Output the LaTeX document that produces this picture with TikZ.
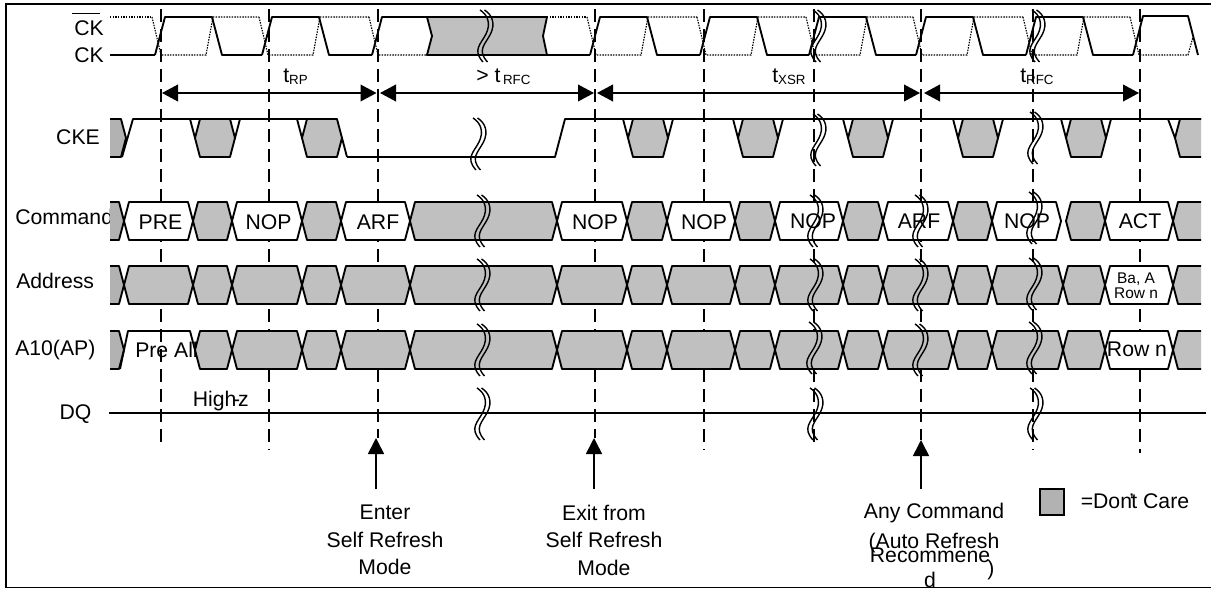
\documentclass[tikz,border=0pt]{standalone}
\usepackage{fontspec}
\setmainfont{Liberation Sans}
\usetikzlibrary{arrows.meta}
\definecolor{dontcare}{HTML}{C0C0C0}
\definecolor{dontcareend}{HTML}{B2B2B2}
\tikzset{
    sig/.style={line width=1.4pt,line join=round},
    dots/.style={line width=.85pt,dash pattern=on 1.1pt off .9pt},
    guideline/.style={line width=1.7pt,dash pattern=on 10pt off 5pt},
    breakline/.style={line width=1.05pt},
    dim/.style={line width=1.3pt,{Triangle[length=12pt,width=12.5pt]}-{Triangle[length=12pt,width=12.5pt]}},
    callout/.style={line width=1.2pt,-{Triangle[length=12pt,width=12pt]}},
    lbl/.style={inner sep=0pt,font=\fontsize{15.9}{20.6}\selectfont},
    smalllbl/.style={inner sep=0pt,align=center,font=\fontsize{11.6}{11.4}\selectfont}
}
\newcommand{\TSub}[1]{t\raisebox{-2.2pt}{\fontsize{10}{12}\selectfont #1}}
\newcommand{\Guide}[3]{
    \coordinate (#1t) at (#2,9);
    \coordinate (#1b) at (#2,#3);
    \draw[guideline] (#1t) -- (#1b);
}
\newcommand{\CkCycle}[2]{
    \draw[sig] (#1,55) -- (#1+10,17) -- (#1+57,17) -- (#1+67,55) -- (#2,55);
    \draw[dots] (#1-3,17) -- (#1+6,55) -- (#1+51,55) -- (#1+58,17) -- (#2-3,17);
}
\newcommand{\GrayCell}[3]{
    \draw[sig,fill=dontcare] (#1,#3+19) -- (#1+5,#3) -- (#2-5,#3) -- (#2,#3+19) -- (#2-5,#3+38) -- (#1+5,#3+38) -- cycle;
}
\newcommand{\WhiteCell}[3]{
    \draw[sig,fill=white] (#1,#3+19) -- (#1+5,#3) -- (#2-5,#3) -- (#2,#3+19) -- (#2-5,#3+38) -- (#1+5,#3+38) -- cycle;
}
\newcommand{\GrayLeft}[2]{
    \fill[dontcareend] (110,#2) -- (#1-5,#2) -- (#1,#2+19) -- (#1-5,#2+38) -- (110,#2+38) -- cycle;
    \draw[sig] (110,#2) -- (#1-5,#2) -- (#1,#2+19) -- (#1-5,#2+38) -- (110,#2+38);
}
\newcommand{\GrayRight}[2]{
    \fill[dontcare] (1201,#2) -- (#1+5,#2) -- (#1,#2+19) -- (#1+5,#2+38) -- (1201,#2+38) -- cycle;
    \draw[sig] (1201,#2) -- (#1+5,#2) -- (#1,#2+19) -- (#1+5,#2+38) -- (1201,#2+38);
}
\newcommand{\GrayRun}[1]{
    \GrayCell{232}{302}{#1}
    \GrayCell{302}{341}{#1}
    \GrayCell{341}{410}{#1}
    \GrayCell{410}{557}{#1}
    \GrayCell{557}{627}{#1}
    \GrayCell{627}{667}{#1}
    \GrayCell{667}{735}{#1}
    \GrayCell{735}{775}{#1}
    \GrayCell{775}{843}{#1}
    \GrayCell{843}{883}{#1}
    \GrayCell{883}{953}{#1}
    \GrayCell{953}{992}{#1}
    \GrayCell{992}{1063}{#1}
    \GrayCell{1063}{1105}{#1}
    \WhiteCell{1105}{1173}{#1}
    \GrayRight{1173}{#1}
}
\newcommand{\CkeHole}[2]{
    \GrayCell{#1-20}{#1+20}{119}
    \draw[sig] (#1-25,119) -- (#1-20,138);
    \draw[sig] (#1+20,138) -- (#1+25,#2);
}
\newcommand{\BreakMark}[2]{
    \draw[breakline,shift={(#1,#2)}] (0,0) .. controls (8,5) and (11,14) .. (6,24) .. controls (1,34) and (-8,40) .. (3,52);
    \draw[breakline,shift={(#1+4.5,#2)}] (0,0) .. controls (8,5) and (11,14) .. (6,24) .. controls (1,34) and (-8,40) .. (3,52);
}

\begin{document}
\begin{tikzpicture}[x=.75pt,y=-.75pt]
    \useasboundingbox (0,0) rectangle (1211,589);

    \node[lbl] (ckbarlabel) at (89,28) {CK};
    \draw[line width=1.3pt] ([xshift=-1.5pt,yshift=5pt]ckbarlabel.north west) -- ([xshift=-3pt,yshift=5pt]ckbarlabel.north east);
    \node[lbl] (cklabel) at (89,55) {CK};
    \node[lbl] (ckelabel) at (78,137) {CKE};
    \node[lbl,anchor=west] (cmdlabel) at (15,217) {Command};
    \node[lbl,anchor=west] (addrlabel) at (16,281) {Address};
    \node[lbl,anchor=west] (a10label) at (15,350) {A10(AP)};
    \node[lbl] (dqlabel) at (75.5,414) {DQ};
    \node[lbl,anchor=west] (prealltext) at (135,350) {Pre All};
    \node[lbl,anchor=west] (highz) at (192.5,401) {High\kern-2.5pt-\kern-1.5pt z};

    \Guide{ga}{161}{445}
    \Guide{gb}{269}{450}
    \Guide{gc}{378}{438}
    \Guide{gd}{595}{438}
    \Guide{ge}{704}{450}
    \Guide{gf}{814}{445}
    \Guide{gg}{921}{440}
    \Guide{gh}{1033}{450}
    \Guide{gi}{1140}{453}

    \draw[sig] (110,55) -- (155,55);
    \draw[dots] (110,17) -- (152,17);
    \CkCycle{155}{262}
    \CkCycle{262}{372}
    \draw[sig] (372,55) -- (382,17) -- (427,17);
    \draw[dots] (369,17) -- (378,55) -- (427,55);
    \draw[sig,fill=dontcare] (427,17) -- (547,17) -- (543,36) -- (547,55) -- (427,55) -- (432,36) -- cycle;
    \draw[sig] (547,55) -- (590,55);
    \draw[dots] (547,17) -- (587,17);
    \CkCycle{590}{700}
    \CkCycle{700}{809}
    \CkCycle{809}{916}
    \CkCycle{916}{1026}
    \CkCycle{1026}{1133}
    \draw[sig] (1133,55) -- (1143,16) -- (1188,16) -- (1198,55);
    \draw[dots] (1130,17) -- (1139,55) -- (1188,55) -- (1193,37);

    \GrayLeft{126}{119}
    \draw[sig] (122,157) -- (133,119) -- (337,119);
    \draw[sig] (347,157) -- (555,157) -- (565,119) -- (1201,119);
    \CkeHole{215}{119}
    \CkeHole{322}{157}
    \CkeHole{648}{119}
    \CkeHole{758}{119}
    \CkeHole{868}{119}
    \CkeHole{978}{119}
    \CkeHole{1086}{119}
    \draw[sig] (1168,119) -- (1175,138);
    \GrayRight{1175}{119}

    \GrayLeft{124}{202}
    \WhiteCell{124}{193}{202}
    \GrayCell{193}{232}{202}
    \WhiteCell{232}{302}{202}
    \GrayCell{302}{341}{202}
    \WhiteCell{341}{410}{202}
    \GrayCell{410}{557}{202}
    \WhiteCell{557}{627}{202}
    \GrayCell{627}{667}{202}
    \WhiteCell{667}{735}{202}
    \GrayCell{735}{775}{202}
    \WhiteCell{775}{843}{202}
    \GrayCell{843}{883}{202}
    \WhiteCell{883}{953}{202}
    \GrayCell{953}{992}{202}
    \WhiteCell{992}{1061}{202}
    \GrayCell{1066}{1105}{202}
    \WhiteCell{1105}{1173}{202}
    \GrayRight{1173}{202}

    \GrayLeft{124}{266}
    \GrayCell{124}{193}{266}
    \GrayCell{193}{232}{266}
    \GrayRun{266}

    \GrayLeft{124}{331}
    \draw[sig] (120,369) -- (128,331) -- (190,331) -- (195,350);
    \GrayCell{195}{232}{331}
    \GrayRun{331}

    \draw[sig] (109,413) -- (1206,413);

    \node[lbl] (pre) at (160.5,222) {PRE};
    \node[lbl] (nopa) at (268.5,222) {NOP};
    \node[lbl] (arfa) at (378,222) {ARF};
    \node[lbl] (nopb) at (595,222) {NOP};
    \node[lbl] (nopc) at (704,222) {NOP};
    \node[lbl] (nopd) at (813,221) {NOP};
    \node[lbl] (arfb) at (919,221) {ARF};
    \node[lbl] (nope) at (1027,221) {NOP};
    \node[lbl] (act) at (1140,221) {ACT};
    \node[smalllbl] (barow) at (1136,285.5) {Ba, A\\Row n};
    \node[lbl] (rown) at (1137,349) {Row n};

    \BreakMark{480}{10}
    \BreakMark{473}{118}
    \BreakMark{477}{195}
    \BreakMark{477}{259}
    \BreakMark{477}{324}
    \BreakMark{477}{388}
    \BreakMark{813}{10}
    \BreakMark{813}{114}
    \BreakMark{810}{195}
    \BreakMark{810}{259}
    \BreakMark{809}{322}
    \BreakMark{810}{388}
    \BreakMark{915}{195}
    \BreakMark{915}{259}
    \BreakMark{915}{324}
    \BreakMark{1032}{10}
    \BreakMark{1030}{112}
    \BreakMark{1029}{192}
    \BreakMark{1029}{258}
    \BreakMark{1029}{322}
    \BreakMark{1030}{388}

    \coordinate (dima) at (162,93);
    \coordinate (dimb) at (376.5,93);
    \coordinate (dimc) at (380,93);
    \coordinate (dimd) at (594,93);
    \coordinate (dime) at (597,93);
    \coordinate (dimf) at (920,93);
    \coordinate (dimg) at (924,93);
    \coordinate (dimh) at (1139,93);
    \draw[dim] (dima) -- (dimb);
    \draw[dim] (dimc) -- (dimd);
    \draw[dim] (dime) -- (dimf);
    \draw[dim] (dimg) -- (dimh);
    \node[lbl,anchor=base west] (trp) at (283,82) {\TSub{RP}};
    \node[lbl,anchor=base west] (trfca) at (476,82) {> t\kern2pt\raisebox{-2.2pt}{\fontsize{10}{12}\selectfont RFC}};
    \node[lbl,anchor=base west] (txsr) at (772,82) {\TSub{XSR}};
    \node[lbl,anchor=base west] (trfcb) at (1020,82) {\TSub{RFC}};

    \coordinate (enterfoot) at (376,489);
    \coordinate (entertip) at (376,438);
    \coordinate (exitfoot) at (594,489);
    \coordinate (exittip) at (594,438);
    \coordinate (anyfoot) at (921,489);
    \coordinate (anytip) at (921,440);
    \draw[callout] (enterfoot) -- (entertip);
    \draw[callout] (exitfoot) -- (exittip);
    \draw[callout] (anyfoot) -- (anytip);
    \node[lbl,align=center] (enterlabel) at (385,540) {Enter\\Self Refresh\\Mode};
    \node[lbl,align=center] (exitlabel) at (604,540) {Exit from\\Self Refresh\\Mode};
    \node[lbl] (anylabel) at (934,513) {Any Command};
    \node[lbl] (autolabel) at (934,543) {(Auto Refresh};
    \node[lbl] (recomlabel) at (930,555) {Recommene};
    \node[lbl] (dlabel) at (930,580) {d};
    \node[lbl] (closelabel) at (991,570) {)};

    \node[draw,line width=1.5pt,fill=dontcareend,inner sep=0pt,minimum width=17.5pt,minimum height=19.5pt] (legendbox) at (1052,502) {};
    \node[lbl,anchor=west] (legendtext) at (1080.5,501) {=Don\kern-2pt'\kern-2pt t Care};

    \draw[line width=1.4pt] (1211,4) -- (6,4) -- (6,587.5) -- (1211,587.5);
\end{tikzpicture}
\end{document}
